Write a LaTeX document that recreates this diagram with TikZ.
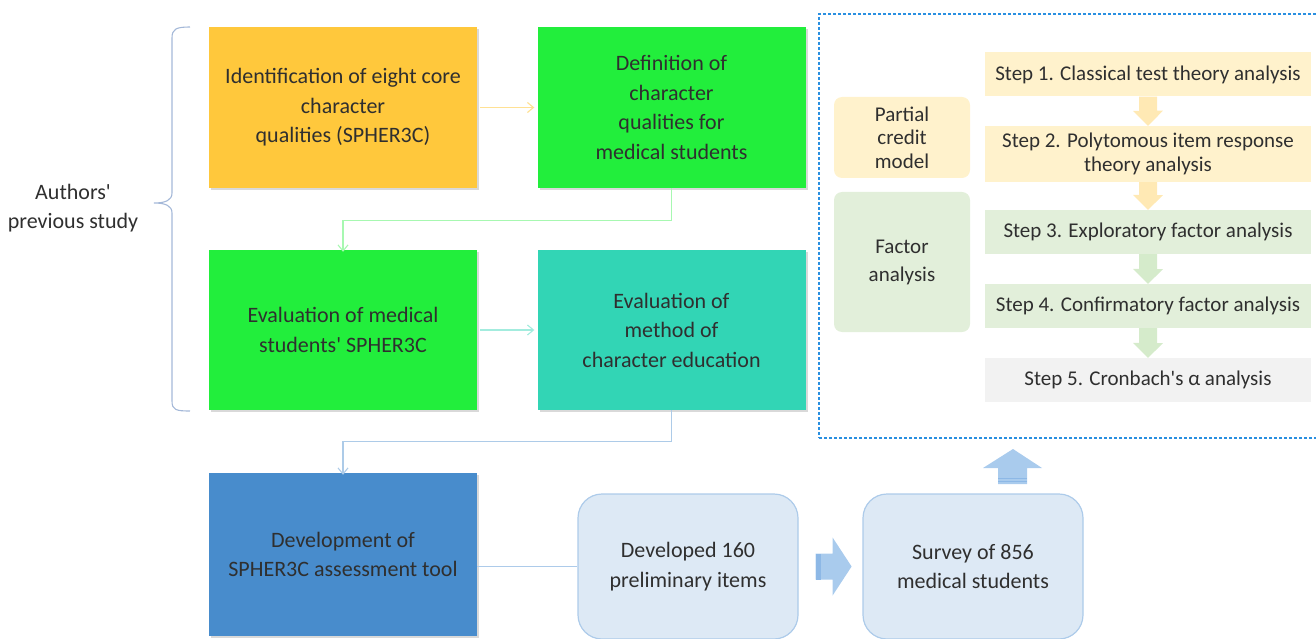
\documentclass[tikz,border=0pt]{standalone}
\usepackage{fontspec}
\setmainfont{Carlito}
\usetikzlibrary{positioning,shadows,calc,arrows.meta}

\definecolor{ink}{HTML}{2F2F2F}
\definecolor{orangebox}{HTML}{FFC83C}
\definecolor{greenbox}{HTML}{22EE3C}
\definecolor{tealbox}{HTML}{32D5B5}
\definecolor{bluebox}{HTML}{488CCC}
\definecolor{softfill}{HTML}{DDE9F5}
\definecolor{softline}{HTML}{ADCBEA}
\definecolor{creamfill}{HTML}{FFF2CC}
\definecolor{creamarrow}{HTML}{FFE9B4}
\definecolor{sagefill}{HTML}{E2EFDA}
\definecolor{sagearrow}{HTML}{D5EBCB}
\definecolor{greyfill}{HTML}{F2F2F2}
\definecolor{panelline}{HTML}{2A8FE0}
\definecolor{bracecol}{HTML}{A4B8D8}
\definecolor{blockblue}{HTML}{A9CBED}
\definecolor{blockdark}{HTML}{8DB8E6}

\tikzset{
  txt/.style={text=ink, font=\fontsize{22}{29.5}\selectfont, align=center},
  tight/.style={font=\fontsize{21}{23.5}\selectfont},
  bigbox/.style={txt, minimum width=268pt, minimum height=161pt, inner sep=0pt,
    drop shadow={shadow xshift=2pt, shadow yshift=-2pt, opacity=0.3}},
  softbox/.style={txt, draw=softline, fill=softfill, line width=1.2pt,
    rounded corners=24pt, minimum width=220pt, minimum height=145pt},
  stepbox/.style={txt, tight, minimum width=326pt, minimum height=44pt, inner sep=0pt},
  sidebox/.style={txt, tight, rounded corners=8pt, minimum width=136pt, inner sep=0pt},
  flow/.style={line width=1.1pt, -{Straight Barb[length=6pt,width=10pt]}},
}

\begin{document}
\begin{tikzpicture}[x=1pt,y=-1pt]
\useasboundingbox (0,0) rectangle (1316,639);
\clip (0,0) rectangle (1316,639);

% earlier work, grouped by the brace
\node[txt] (prev) at (73,208) {Authors\textquotesingle\\previous study};
\draw[bracecol, line width=1.1pt] (190,27) .. controls (176,27) and (172,29) .. (172,38)
  -- (172,193) .. controls (172,200) and (166,203) .. (154,203)
  .. controls (166,203) and (172,206) .. (172,213)
  -- (172,401) .. controls (172,410) and (176,411) .. (190,411);

\node[bigbox, fill=orangebox] (ident) at (343,107.5) {Identification of eight core\\character\\qualities (SPHER3C)};
\node[bigbox, fill=greenbox] (defn) at (671.5,107.5) {Definition of\\character\\qualities for\\medical students};
\node[bigbox, fill=greenbox, minimum height=160pt] (evalstu) at (343,330) {Evaluation of medical\\students\textquotesingle\ SPHER3C};
\node[bigbox, fill=tealbox, minimum height=160pt] (evalmeth) at (671.5,330) {Evaluation of\\method of\\character education};
\node[bigbox, fill=bluebox, minimum height=163pt] (devtool) at (343,554.5) {Development of\\SPHER3C assessment tool};

\draw[flow, color=orangebox!55, shorten <=3pt, shorten >=3pt] (ident) -- (defn);
\draw[flow, color=greenbox!40] (defn.south) -- ++(0,32) -| ([yshift=-2pt]evalstu.north);
\draw[flow, color=tealbox!45, shorten <=3pt, shorten >=3pt] (evalstu) -- (evalmeth);
\draw[flow, color=bluebox!45] (evalmeth.south) -- ++(0,31) -| ([yshift=-2pt]devtool.north);

% item development and survey
\node[softbox] (items) at (688,566.5) {Developed 160\\preliminary items};
\node[softbox] (survey) at (973,566.5) {Survey of 856\\medical students};
\draw[softline, line width=1.4pt] (devtool.east |- items.west) -- (items.west);

\fill[blockblue] ($(items.east)+(17,-13)$) -- ++(17,0) -- ++(0,-16) -- ++(19,29)
  -- ++(-19,29) -- ++(0,-16) -- ++(-17,0) -- cycle;
\fill[blockdark] ($(items.east)+(17,-13)$) rectangle ++(5,26);

\fill[blockblue] (998,484) -- (998,468) -- (983,468) -- (1013,449) -- (1042,468)
  -- (1027,468) -- (1027,484) -- cycle;
\draw[blockdark, line width=1pt] (998,478) -- (1027,478) (998,481) -- (1027,481);

% analysis panel
\node[draw=panelline, dashed, dash pattern=on 3pt off 2pt, line width=1.2pt,
  minimum width=499pt, minimum height=424pt, inner sep=0pt] (panel) at (1068.5,226) {};

\node[sidebox, fill=creamfill, minimum height=81pt] (pcm) at (902,137.5) {Partial\\credit\\model};
\node[sidebox, fill=sagefill, minimum height=140pt, font=\fontsize{21}{28}\selectfont] (factor) at (902,262) {Factor\\analysis};

\node[stepbox, fill=creamfill] (s1) at (1148,74.5) {Step 1. Classical test theory analysis};
\node[stepbox, fill=creamfill, minimum height=56pt] (s2) at (1148,154) {Step 2. Polytomous item response\\theory analysis};
\node[stepbox, fill=sagefill] (s3) at (1148,232) {Step 3. Exploratory factor analysis};
\node[stepbox, fill=sagefill] (s4) at (1148,306) {Step 4. Confirmatory factor analysis};
\node[stepbox, fill=greyfill] (s5) at (1148,380) {Step 5. Cronbach\textquotesingle s α analysis};

\fill[creamarrow] ($(s1.south)+(-9,0)$) -- ++(18,0) -- ++(0,14) -- ++(6,0) -- (s2.north)
  -- ++(-15,-15) -- ++(6,0) -- cycle;
\fill[creamarrow] ($(s2.south)+(-9,0)$) -- ++(18,0) -- ++(0,13) -- ++(6,0) -- (s3.north)
  -- ++(-15,-15) -- ++(6,0) -- cycle;
\fill[sagearrow] ($(s3.south)+(-9,0)$) -- ++(18,0) -- ++(0,15) -- ++(6,0) -- (s4.north)
  -- ++(-15,-15) -- ++(6,0) -- cycle;
\fill[sagearrow] ($(s4.south)+(-9,0)$) -- ++(18,0) -- ++(0,15) -- ++(6,0) -- (s5.north)
  -- ++(-15,-15) -- ++(6,0) -- cycle;
\end{tikzpicture}
\end{document}
